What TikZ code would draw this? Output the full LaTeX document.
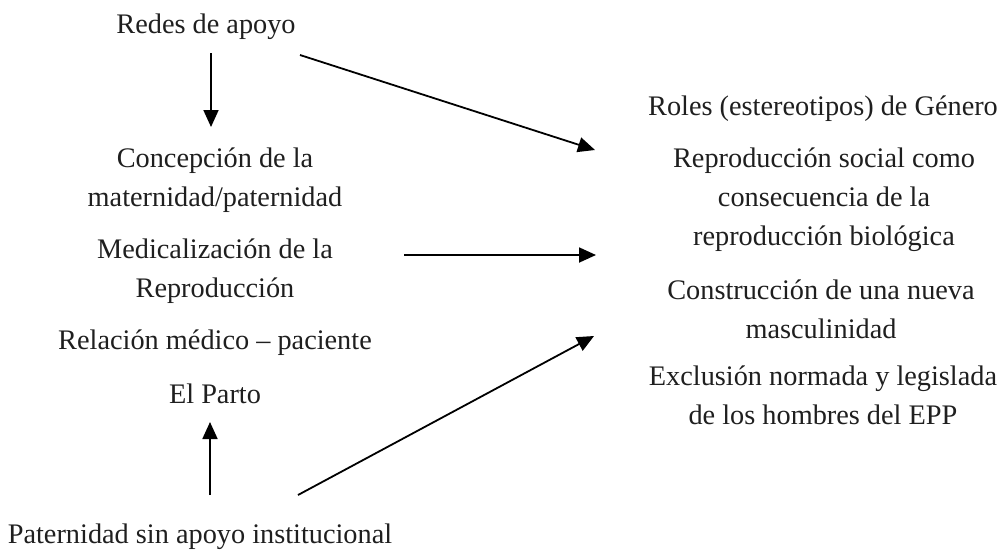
\documentclass[tikz,border=0pt]{standalone}
\usepackage{fontspec}
\setmainfont{Liberation Serif}
\usetikzlibrary{arrows.meta}
\begin{document}
\begin{tikzpicture}[x=1pt,y=-1pt,
  lbl/.style={inner sep=0pt, anchor=base, align=center,
    font=\fontsize{28.3}{39}\selectfont, text=black!88},
  arr/.style={line width=1.8pt, draw=black,
    -{Triangle[length=17pt,width=15pt]}}]
\fill[white] (0,0) rectangle (1006,552);
\useasboundingbox (0,0) rectangle (1006,552);
% left column (anchor = baseline of the last line)
\node[lbl] (redes) at (206,33) {Redes de apoyo};
\node[lbl] (concep) at (215,206) {Concepción de la\\maternidad/paternidad};
\node[lbl] (medic) at (215,297) {Medicalización de la\\Reproducción};
\node[lbl] (relac) at (215,349) {Relación médico – paciente};
\node[lbl] (parto) at (215,403) {El Parto};
\node[lbl] (patern) at (200,543) {Paternidad sin apoyo institucional};
% right column
\node[lbl] (roles) at (823,115) {Roles (estereotipos) de Género};
\node[lbl] (repsoc) at (824,245) {Reproducción social como\\consecuencia de la\\reproducción biológica};
\node[lbl] (constr) at (821,338) {Construcción de una nueva\\masculinidad};
\node[lbl] (exclu) at (823,424) {Exclusión normada y legislada\\de los hombres del EPP};
% connector ends
\coordinate (a1s) at (211,53);
\coordinate (a1e) at (211,127);
\coordinate (a2s) at (300,55);
\coordinate (a2e) at (595,150);
\coordinate (a3s) at (404,255);
\coordinate (a3e) at (596,255);
\coordinate (a4s) at (210,495);
\coordinate (a4e) at (210,422);
\coordinate (a5s) at (298,495);
\coordinate (a5e) at (594,336);
\draw[arr] (a1s) -- (a1e);
\draw[arr] (a2s) -- (a2e);
\draw[arr] (a3s) -- (a3e);
\draw[arr] (a4s) -- (a4e);
\draw[arr] (a5s) -- (a5e);
\end{tikzpicture}
\end{document}
